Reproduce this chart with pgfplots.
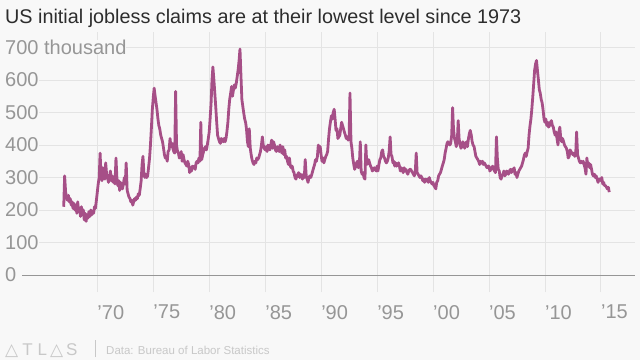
\documentclass[border=0pt]{standalone}
\usepackage{fontspec}
\setmainfont{Liberation Sans}
\newfontfamily\dejavu{DejaVu Sans}
\usepackage{pgfplots}
\usepackage{pgfplotstable}
\pgfplotsset{compat=1.18}
\definecolor{bg}{RGB}{248,248,248}
\definecolor{gridc}{RGB}{228,228,228}
\definecolor{zeroc}{RGB}{150,150,150}
\definecolor{labc}{RGB}{150,150,150}
\definecolor{titc}{RGB}{45,45,45}
\definecolor{linec}{RGB}{166,79,135}
\definecolor{footc}{RGB}{200,200,200}

\pgfplotstableread[row sep=\\]{
year claims\\
1967.00 210\\1967.08 305\\1967.17 255\\1967.25 240\\1967.33 230\\1967.42 245\\1967.50 225\\1967.58 235\\1967.67 215\\1967.75 225\\1967.83 205\\1967.92 220\\
1968.00 200\\1968.08 215\\1968.17 190\\1968.25 225\\1968.33 195\\1968.42 205\\1968.50 180\\1968.58 210\\1968.67 185\\1968.75 200\\1968.83 170\\1968.92 190\\
1969.00 165\\1969.08 185\\1969.17 175\\1969.25 195\\1969.33 180\\1969.42 200\\1969.50 185\\1969.58 195\\1969.67 190\\1969.75 210\\1969.83 205\\1969.92 230\\
1970.00 255\\1970.08 280\\1970.17 300\\1970.25 375\\1970.33 310\\1970.42 290\\1970.50 330\\1970.58 300\\1970.67 295\\1970.75 345\\1970.83 310\\1970.92 300\\
1971.00 285\\1971.08 300\\1971.17 320\\1971.25 290\\1971.33 305\\1971.42 285\\1971.50 300\\1971.58 280\\1971.67 360\\1971.75 300\\1971.83 275\\1971.92 290\\
1972.00 260\\1972.08 285\\1972.17 270\\1972.25 265\\1972.33 280\\1972.42 300\\1972.50 280\\1972.58 345\\1972.67 260\\1972.75 250\\1972.83 240\\1972.92 235\\
1973.00 225\\1973.08 230\\1973.17 215\\1973.25 225\\1973.33 235\\1973.42 230\\1973.50 240\\1973.58 235\\1973.67 250\\1973.75 245\\1973.83 265\\1973.92 290\\
1974.00 340\\1974.08 365\\1974.17 310\\1974.25 300\\1974.33 310\\1974.42 300\\1974.50 305\\1974.58 330\\1974.67 360\\1974.75 400\\1974.83 450\\1974.92 510\\
1975.00 545\\1975.08 575\\1975.17 550\\1975.25 530\\1975.33 510\\1975.42 480\\1975.50 460\\1975.58 450\\1975.67 430\\1975.75 420\\1975.83 410\\1975.92 390\\
1976.00 370\\1976.08 360\\1976.17 365\\1976.25 350\\1976.33 380\\1976.42 385\\1976.50 420\\1976.58 395\\1976.67 405\\1976.75 390\\1976.83 380\\1976.92 375\\
1977.00 565\\1977.08 400\\1977.17 380\\1977.25 375\\1977.33 360\\1977.42 365\\1977.50 380\\1977.58 350\\1977.67 370\\1977.75 355\\1977.83 345\\1977.92 340\\
1978.00 335\\1978.08 350\\1978.17 340\\1978.25 315\\1978.33 330\\1978.42 320\\1978.50 335\\1978.58 330\\1978.67 335\\1978.75 325\\1978.83 345\\1978.92 350\\
1979.00 345\\1979.08 360\\1979.17 350\\1979.25 470\\1979.33 355\\1979.42 370\\1979.50 380\\1979.58 390\\1979.67 395\\1979.75 385\\1979.83 400\\1979.92 420\\
1980.00 440\\1980.08 480\\1980.17 530\\1980.25 600\\1980.33 640\\1980.42 600\\1980.50 560\\1980.58 520\\1980.67 470\\1980.75 430\\1980.83 420\\1980.92 410\\
1981.00 405\\1981.08 420\\1981.17 415\\1981.25 410\\1981.33 420\\1981.42 410\\1981.50 420\\1981.58 440\\1981.67 470\\1981.75 510\\1981.83 540\\1981.92 560\\
1982.00 580\\1982.08 550\\1982.17 570\\1982.25 585\\1982.33 575\\1982.42 590\\1982.50 610\\1982.58 630\\1982.67 660\\1982.75 695\\1982.83 620\\1982.92 540\\
1983.00 520\\1983.08 500\\1983.17 480\\1983.25 470\\1983.33 450\\1983.42 410\\1983.50 395\\1983.58 450\\1983.67 390\\1983.75 370\\1983.83 355\\1983.92 345\\
1984.00 340\\1984.08 350\\1984.17 345\\1984.25 360\\1984.33 355\\1984.42 360\\1984.50 370\\1984.58 380\\1984.67 400\\1984.75 425\\1984.83 400\\1984.92 390\\
1985.00 385\\1985.08 395\\1985.17 380\\1985.25 400\\1985.33 395\\1985.42 385\\1985.50 400\\1985.58 415\\1985.67 390\\1985.75 410\\1985.83 400\\1985.92 385\\
1986.00 380\\1986.08 395\\1986.17 385\\1986.25 380\\1986.33 400\\1986.42 385\\1986.50 375\\1986.58 395\\1986.67 370\\1986.75 385\\1986.83 360\\1986.92 365\\
1987.00 350\\1987.08 340\\1987.17 360\\1987.25 335\\1987.33 330\\1987.42 335\\1987.50 320\\1987.58 315\\1987.67 300\\1987.75 295\\1987.83 305\\1987.92 310\\
1988.00 315\\1988.08 300\\1988.17 310\\1988.25 305\\1988.33 295\\1988.42 310\\1988.50 300\\1988.58 355\\1988.67 305\\1988.75 295\\1988.83 285\\1988.92 300\\
1989.00 305\\1989.08 300\\1989.17 310\\1989.25 320\\1989.33 330\\1989.42 340\\1989.50 355\\1989.58 350\\1989.67 365\\1989.75 400\\1989.83 380\\1989.92 395\\
1990.00 370\\1990.08 350\\1990.17 360\\1990.25 345\\1990.33 355\\1990.42 365\\1990.50 370\\1990.58 380\\1990.67 420\\1990.75 450\\1990.83 470\\1990.92 490\\
1991.00 480\\1991.08 500\\1991.17 510\\1991.25 480\\1991.33 445\\1991.42 450\\1991.50 420\\1991.58 425\\1991.67 430\\1991.75 450\\1991.83 470\\1991.92 460\\
1992.00 450\\1992.08 440\\1992.17 430\\1992.25 420\\1992.33 425\\1992.42 415\\1992.50 420\\1992.58 560\\1992.67 410\\1992.75 390\\1992.83 360\\1992.92 340\\
1993.00 325\\1993.08 335\\1993.17 345\\1993.25 350\\1993.33 330\\1993.42 340\\1993.50 410\\1993.58 320\\1993.67 310\\1993.75 315\\1993.83 300\\1993.92 295\\
1994.00 400\\1994.08 340\\1994.17 345\\1994.25 355\\1994.33 345\\1994.42 335\\1994.50 330\\1994.58 320\\1994.67 325\\1994.75 330\\1994.83 325\\1994.92 320\\
1995.00 335\\1995.08 320\\1995.17 340\\1995.25 355\\1995.33 360\\1995.42 380\\1995.50 385\\1995.58 365\\1995.67 360\\1995.75 350\\1995.83 345\\1995.92 350\\
1996.00 360\\1996.08 380\\1996.17 425\\1996.25 370\\1996.33 365\\1996.42 345\\1996.50 350\\1996.58 335\\1996.67 345\\1996.75 335\\1996.83 340\\1996.92 345\\
1997.00 335\\1997.08 320\\1997.17 330\\1997.25 325\\1997.33 315\\1997.42 330\\1997.50 320\\1997.58 325\\1997.67 315\\1997.75 310\\1997.83 320\\1997.92 325\\
1998.00 325\\1998.08 320\\1998.17 315\\1998.25 310\\1998.33 305\\1998.42 320\\1998.50 375\\1998.58 315\\1998.67 310\\1998.75 305\\1998.83 300\\1998.92 305\\
1999.00 300\\1999.08 290\\1999.17 295\\1999.25 285\\1999.33 295\\1999.42 290\\1999.50 295\\1999.58 285\\1999.67 300\\1999.75 290\\1999.83 285\\1999.92 280\\
2000.00 285\\2000.08 275\\2000.17 270\\2000.25 265\\2000.33 285\\2000.42 290\\2000.50 305\\2000.58 310\\2000.67 315\\2000.75 325\\2000.83 335\\2000.92 345\\
2001.00 355\\2001.08 375\\2001.17 390\\2001.25 405\\2001.33 410\\2001.42 405\\2001.50 400\\2001.58 405\\2001.67 430\\2001.75 515\\2001.83 450\\2001.92 420\\
2002.00 410\\2002.08 395\\2002.17 410\\2002.25 475\\2002.33 420\\2002.42 400\\2002.50 390\\2002.58 395\\2002.67 410\\2002.75 405\\2002.83 390\\2002.92 400\\
2003.00 410\\2003.08 395\\2003.17 420\\2003.25 435\\2003.33 445\\2003.42 430\\2003.50 410\\2003.58 400\\2003.67 395\\2003.75 380\\2003.83 365\\2003.92 360\\
2004.00 355\\2004.08 350\\2004.17 340\\2004.25 350\\2004.33 345\\2004.42 350\\2004.50 340\\2004.58 345\\2004.67 340\\2004.75 335\\2004.83 330\\2004.92 335\\
2005.00 335\\2005.08 320\\2005.17 325\\2005.25 330\\2005.33 335\\2005.42 325\\2005.50 320\\2005.58 315\\2005.67 425\\2005.75 360\\2005.83 325\\2005.92 320\\
2006.00 300\\2006.08 295\\2006.17 305\\2006.25 310\\2006.33 320\\2006.42 305\\2006.50 310\\2006.58 320\\2006.67 315\\2006.75 310\\2006.83 320\\2006.92 325\\
2007.00 315\\2007.08 325\\2007.17 320\\2007.25 330\\2007.33 310\\2007.42 315\\2007.50 300\\2007.58 310\\2007.67 320\\2007.75 325\\2007.83 330\\2007.92 335\\
2008.00 345\\2008.08 355\\2008.17 370\\2008.25 375\\2008.33 365\\2008.42 380\\2008.50 390\\2008.58 430\\2008.67 460\\2008.75 480\\2008.83 510\\2008.92 550\\
2009.00 590\\2009.08 630\\2009.17 650\\2009.25 660\\2009.33 630\\2009.42 600\\2009.50 570\\2009.58 560\\2009.67 540\\2009.75 530\\2009.83 510\\2009.92 480\\
2010.00 470\\2010.08 480\\2010.17 460\\2010.25 470\\2010.33 455\\2010.42 460\\2010.50 470\\2010.58 475\\2010.67 460\\2010.75 455\\2010.83 440\\2010.92 430\\
2011.00 440\\2011.08 420\\2011.17 400\\2011.25 440\\2011.33 455\\2011.42 420\\2011.50 410\\2011.58 420\\2011.67 410\\2011.75 400\\2011.83 395\\2011.92 390\\
2012.00 380\\2012.08 360\\2012.17 365\\2012.25 385\\2012.33 380\\2012.42 375\\2012.50 370\\2012.58 375\\2012.67 365\\2012.75 370\\2012.83 440\\2012.92 370\\
2013.00 360\\2013.08 350\\2013.17 345\\2013.25 350\\2013.33 345\\2013.42 350\\2013.50 340\\2013.58 330\\2013.67 310\\2013.75 360\\2013.83 335\\2013.92 345\\
2014.00 330\\2014.08 340\\2014.17 325\\2014.25 310\\2014.33 305\\2014.42 310\\2014.50 300\\2014.58 305\\2014.67 295\\2014.75 285\\2014.83 295\\2014.92 295\\
2015.00 290\\2015.08 300\\2015.17 280\\2015.25 285\\2015.33 275\\2015.42 275\\2015.50 270\\2015.58 265\\2015.67 270\\2015.75 255\\
}\claims

\begin{document}
\begin{tikzpicture}[x=1bp,y=1bp]
\fill[bg] (0,0) rectangle (640,360);
\path[use as bounding box] (0,0) rectangle (640,360);
\node[anchor=base west, inner sep=0pt, text=titc, font=\fontsize{19.8bp}{24bp}\selectfont]
  at (5,336.7) {US initial jobless claims are at their lowest level since 1973};
\begin{axis}[
  at={(22bp,68bp)}, anchor=south west,
  scale only axis, width=613bp, height=260bp,
  xmin=1963.271, xmax=2018.052, ymin=-52.31, ymax=747.69,
  axis line style={draw=none},
  clip=false,
  xtick={1970,1975,...,2015},
  xticklabels={’70,’75,’80,’85,’90,’95,’00,’05,’10,’15},
  ytick={100,200,...,700},
  yticklabels={100\hspace{6bp},200\hspace{6bp},300\hspace{6bp},400\hspace{6bp},500\hspace{6bp},600\hspace{6bp},700 thousand\hspace{6bp}},
  extra y ticks={0},
  extra y tick labels={0\hspace{5bp}},
  extra y tick style={grid style={draw=zeroc, line width=1bp}},
  major tick length=0pt,
  tick style={draw=none},
  xmajorgrids, ymajorgrids,
  grid style={draw=gridc, line width=0.8bp},
  tick label style={text=labc, font=\fontsize{20bp}{24bp}\selectfont},
  xticklabel style={anchor=north west, inner sep=0pt, yshift=-13bp},
  yticklabel style={anchor=west, inner sep=0pt, xshift=-17bp, fill=bg},
]
\addplot[linec, line width=2.8bp, line join=round, no marks] table[x=year, y=claims] {\claims};
\end{axis}
\node[anchor=base west, inner sep=0pt, text=footc, font=\fontsize{17bp}{20bp}\selectfont] at (5,5)
  {{\dejavu △}\hspace{4bp}T\hspace{5bp}L\hspace{3bp}{\dejavu △}\hspace{3bp}S};
\draw[footc, line width=0.8bp] (95,3) -- (95,20);
\node[anchor=base west, inner sep=0pt, text=footc, font=\fontsize{11.5bp}{14bp}\selectfont] at (106,6)
  {Data: Bureau of Labor Statistics};
\end{tikzpicture}
\end{document}
